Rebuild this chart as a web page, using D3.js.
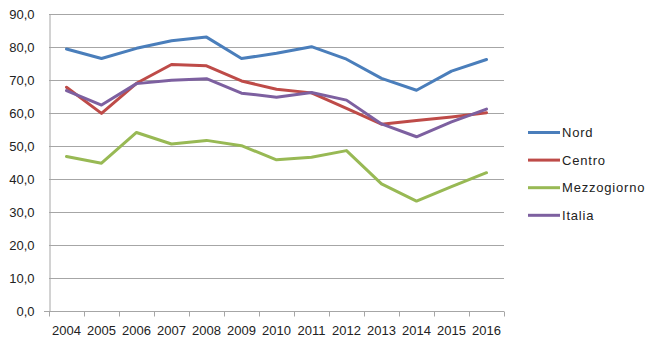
<!DOCTYPE html>
<html>
<head>
<meta charset="utf-8">
<script src="https://cdn.jsdelivr.net/npm/d3@7"></script>
<style>
  html, body { margin: 0; padding: 0; background: #fff; }
  svg { display: block; }
  text { font-family: "Liberation Sans", Arial, sans-serif; fill: #222; }
</style>
</head>
<body>
<svg id="chart" width="660" height="346"></svg>
<script>
// Anni
const years = ["2004","2005","2006","2007","2008","2009","2010","2011","2012","2013","2014","2015","2016"];

// Serie per ripartizione
const nord        = [79.4, 76.5, 79.6, 81.9, 83.0, 76.5, 78.1, 80.1, 76.3, 70.5, 66.9, 72.7, 76.2];
const centro      = [67.8, 59.9, 69.0, 74.7, 74.3, 69.7, 67.2, 66.1, 61.4, 56.6, 57.7, 58.8, 60.1];
const mezzogiorno = [46.8, 44.8, 54.1, 50.6, 51.7, 50.1, 45.8, 46.6, 48.6, 38.5, 33.3, 37.7, 41.9];
const italia      = [66.8, 62.4, 68.9, 69.9, 70.4, 66.0, 64.8, 66.2, 63.9, 56.7, 52.8, 57.3, 61.2];

const seriesNames  = ["Nord", "Centro", "Mezzogiorno", "Italia"];
const seriesColors = ["#4A7EBB", "#BE4B48", "#98B954", "#7D60A0"];
const yTicks = [0, 10, 20, 30, 40, 50, 60, 70, 80, 90];

const series = [nord, centro, mezzogiorno, italia].map((vals, i) => ({
  name: seriesNames[i], color: seriesColors[i], values: vals
}));

const svg = d3.select("#chart");
const plot = { left: 49, right: 504, top: 14, bottom: 311 };

const x = d3.scaleBand().domain(years).range([plot.left, plot.right]);
const y = d3.scaleLinear().domain([0, 90]).range([plot.bottom, plot.top]);

const fmt = v => d3.format(".1f")(v).replace(".", ",");

// Griglia orizzontale
svg.append("g")
  .selectAll("line")
  .data(yTicks)
  .join("line")
  .attr("x1", plot.left).attr("x2", plot.right)
  .attr("y1", d => y(d) + 0.5).attr("y2", d => y(d) + 0.5)
  .attr("stroke", "#a6a6a6").attr("stroke-width", 1);

// Asse Y
const yAxis = svg.append("g")
  .attr("transform", `translate(${plot.left + 0.5},0)`)
  .call(d3.axisLeft(y).tickValues(yTicks).tickFormat(fmt).tickSize(0).tickPadding(15));
yAxis.select(".domain").attr("stroke", "#a6a6a6");
yAxis.selectAll("text").attr("font-size", 13).attr("dy", "0.35em")
  .attr("font-family", "'Liberation Sans', Arial, sans-serif").attr("fill", "#222");

// Asse X: tacche tra le categorie
const xAxisG = svg.append("g")
  .attr("transform", `translate(0,${plot.bottom + 0.5})`);
xAxisG.append("line")
  .attr("x1", plot.left - 5).attr("x2", plot.right)
  .attr("stroke", "#a6a6a6");
xAxisG.selectAll("line.tick")
  .data(years.concat(["end"]))
  .join("line").attr("class", "tick")
  .attr("x1", (d, i) => Math.round(plot.left + i * x.step()) + 0.5)
  .attr("x2", (d, i) => Math.round(plot.left + i * x.step()) + 0.5)
  .attr("y1", 0).attr("y2", 5)
  .attr("stroke", "#a6a6a6");
xAxisG.selectAll("text")
  .data(years)
  .join("text")
  .attr("x", d => x(d) + x.bandwidth() / 2)
  .attr("y", 23)
  .attr("text-anchor", "middle")
  .attr("font-size", 13)
  .text(d => d);

// Linee
const line = d3.line()
  .x((d, i) => x(years[i]) + x.bandwidth() / 2)
  .y(d => y(d));

svg.append("g")
  .selectAll("path")
  .data(series)
  .join("path")
  .attr("d", d => line(d.values))
  .attr("fill", "none")
  .attr("stroke", d => d.color)
  .attr("stroke-width", 3)
  .attr("stroke-linejoin", "round")
  .attr("stroke-linecap", "round");

// Legenda
const legend = svg.append("g");
const lg = legend.selectAll("g")
  .data(series)
  .join("g")
  .attr("transform", (d, i) => `translate(528,${132.5 + i * 27.6})`);
lg.append("line")
  .attr("x1", 0).attr("x2", 32)
  .attr("stroke", d => d.color).attr("stroke-width", 3);
lg.append("text")
  .attr("x", 34).attr("dy", "0.35em")
  .attr("font-size", 13)
  .attr("letter-spacing", 0.8)
  .text(d => d.name);
</script>
</body>
</html>
